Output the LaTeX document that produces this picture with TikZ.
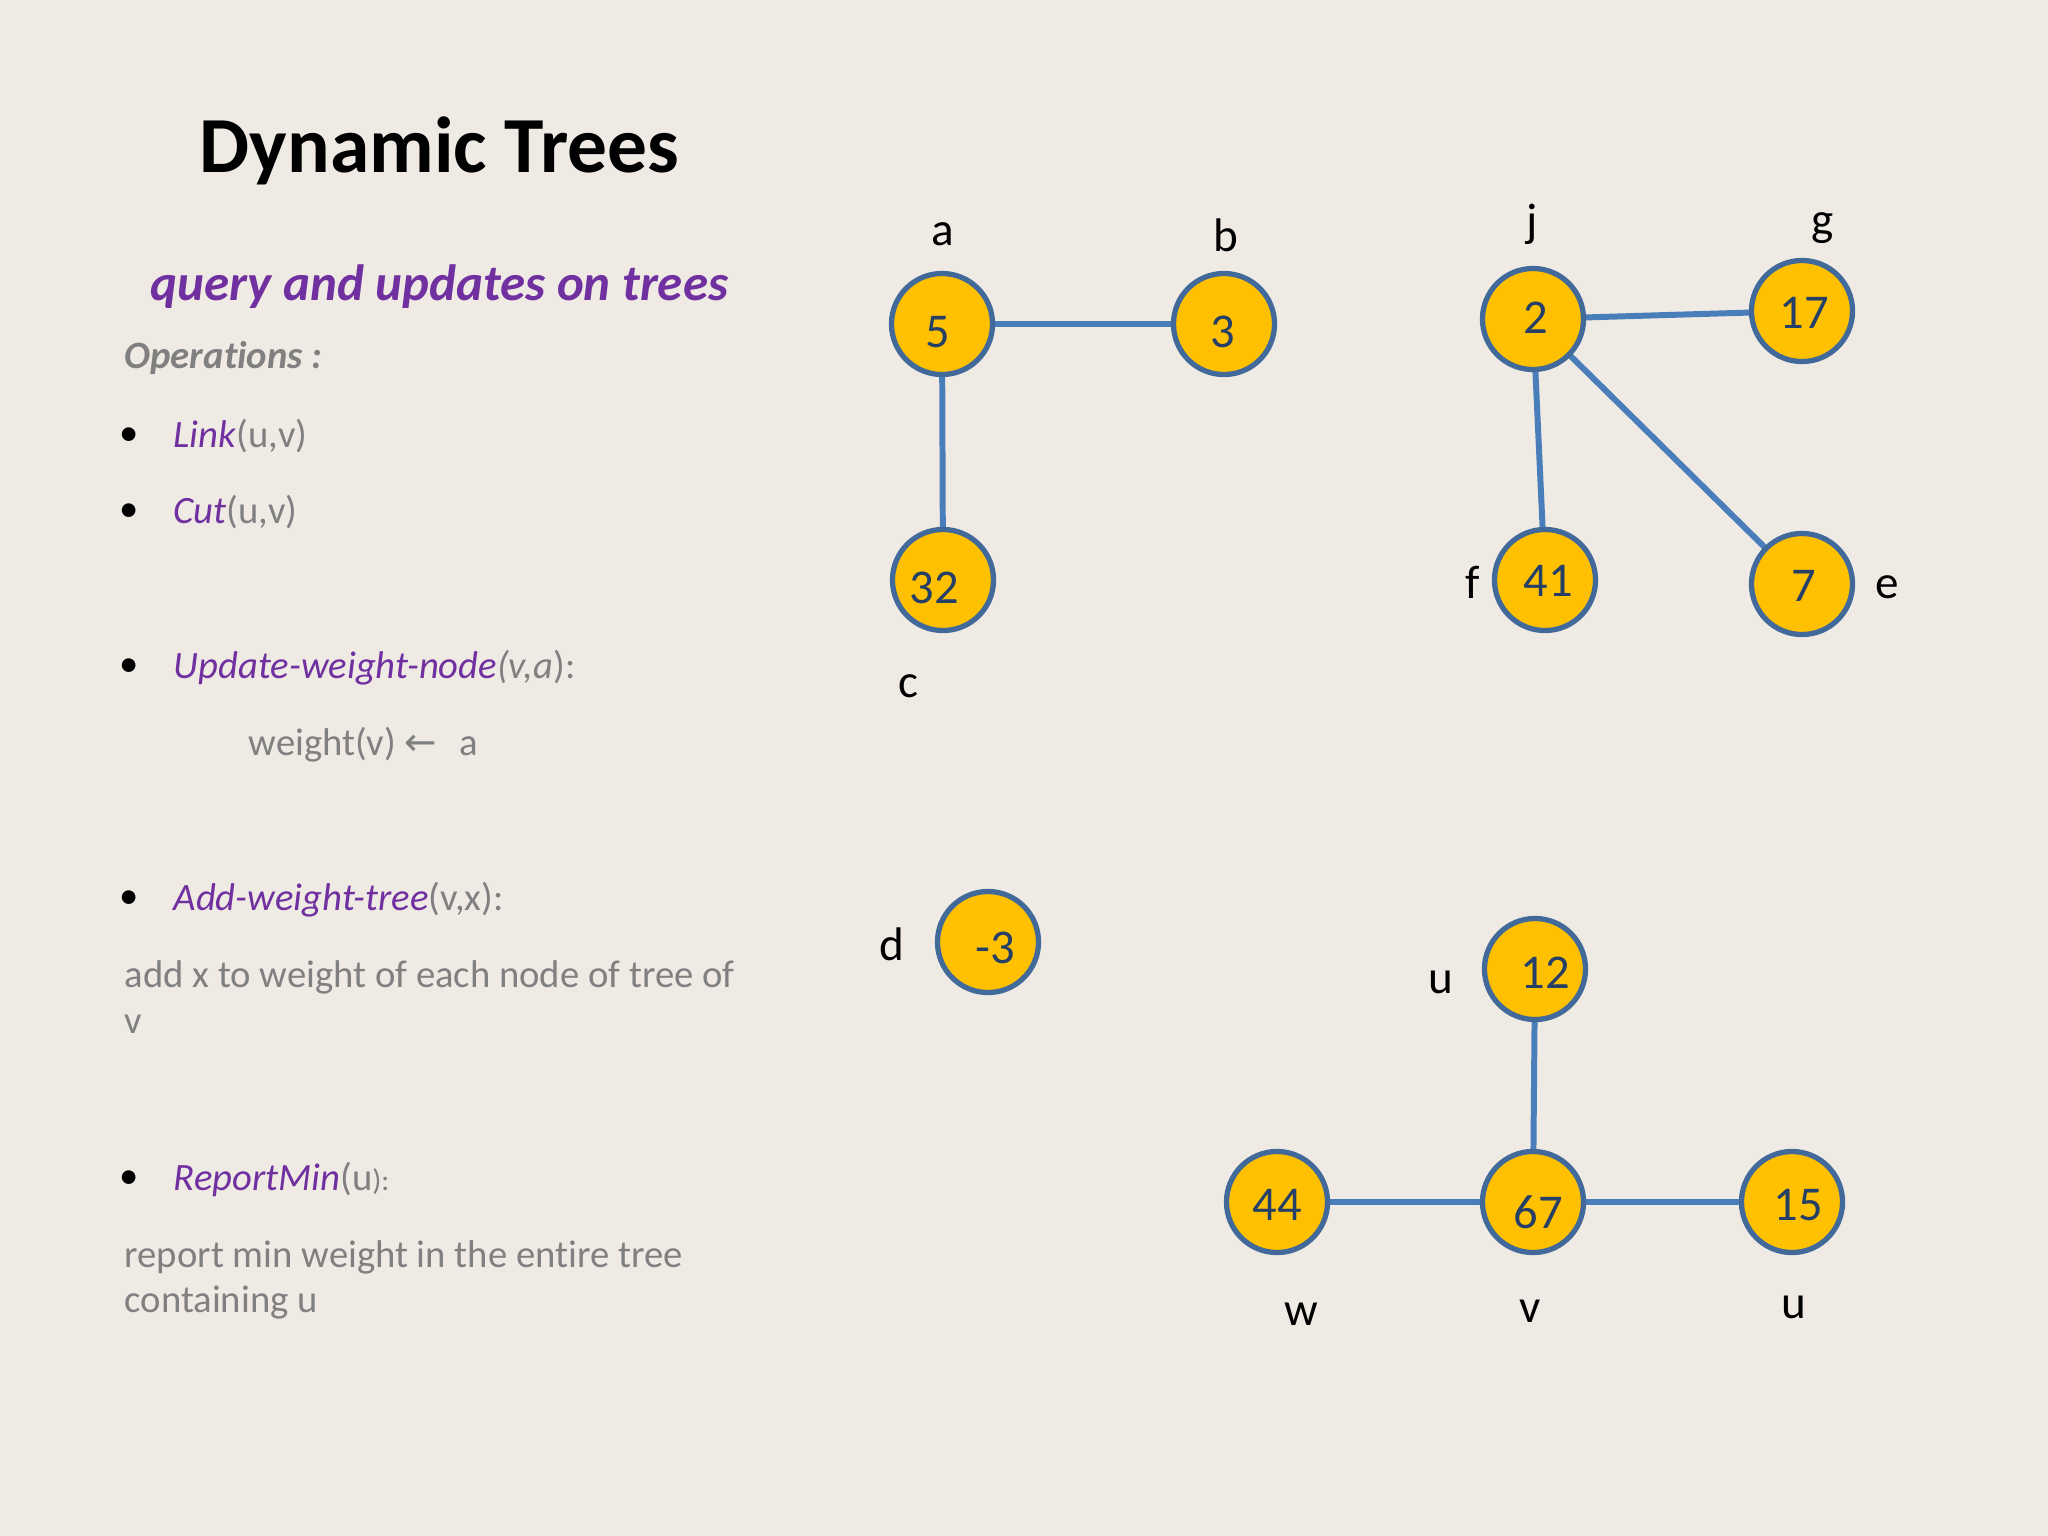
\documentclass[tikz,border=0pt]{standalone}
\usepackage{fontspec}
\setmainfont{Carlito}[Ligatures=NoCommon]
\newfontfamily\symfont{DejaVu Sans}
\definecolor{bgcol}{HTML}{EFEBE4}
\definecolor{purp}{HTML}{7030A0}
\definecolor{txtgray}{HTML}{808080}
\definecolor{gold}{HTML}{FFC000}
\definecolor{rimblue}{HTML}{41699A}
\definecolor{edgeblue}{HTML}{4A7EBB}
\definecolor{numblue}{HTML}{253F66}
\pgfdeclarelayer{backlayer}
\pgfdeclarelayer{edgelayer}
\pgfsetlayers{backlayer,edgelayer,main}
\tikzset{
  vtx/.style={circle, draw=rimblue, line width=1.5pt, fill=gold, minimum size=1.01cm, inner sep=0pt},
  num/.style={text=numblue, font=\fontsize{13.8pt}{16pt}\selectfont, inner sep=0pt, anchor=center},
  lbl/.style={anchor=base, font=\fontsize{13.4pt}{16pt}\selectfont, inner sep=0pt, text=black},
  treeedge/.style={draw=edgeblue, line width=1.7pt},
  body/.style={anchor=base west, inner sep=0pt, text=txtgray, font=\fontsize{11pt}{13pt}\selectfont},
  bul/.style={anchor=base, inner sep=0pt, text=black, font=\fontsize{11pt}{13pt}\selectfont},
}
\newcommand{\op}[1]{\textcolor{purp}{\itshape #1}}
\begin{document}
\begin{tikzpicture}[x=0.01cm,y=-0.01cm]
\useasboundingbox (0,0) rectangle (2048,1536);
\begin{pgfonlayer}{backlayer}
  \fill[bgcol] (0,0) rectangle (2048,1536);
\end{pgfonlayer}

% ---- left column text ----
\node[anchor=base west, inner sep=0pt, font=\fontsize{22.6pt}{27pt}\selectfont\bfseries] (title) at (199,172) {Dynamic Trees};
\node[anchor=base west, inner sep=0pt, text=purp, font=\fontsize{14.5pt}{17pt}\selectfont\bfseries\itshape] (sub) at (150,300) {query and updates on trees};
\node[body, font=\fontsize{11pt}{13pt}\selectfont\bfseries\itshape] (ops) at (124,368) {Operations :};

\node[bul] (b1) at (129,445) {\textbullet};
\node[body] (t1) at (173,447) {\op{Link}(u,v)};
\node[bul] (b2) at (129,521) {\textbullet};
\node[body] (t2) at (173,523) {\op{Cut}(u,v)};
\node[bul] (b3) at (129,676) {\textbullet};
\node[body] (t3) at (173,678) {\op{Update-weight-node}\textit{(v,a}):};
\node[body] (t3b) at (248,755) {weight(v) {\symfont ←}\,\, a};
\node[bul] (b4) at (129,908) {\textbullet};
\node[body] (t4) at (173,910) {\op{Add-weight-tree}(v,x):};
\node[body] (t4b) at (124,987) {add x to weight of each node of tree of};
\node[body] (t4c) at (124,1033) {v};
\node[bul] (b5) at (129,1188) {\textbullet};
\node[body] (t5) at (173,1190) {\op{ReportMin}(u{\fontsize{8.5pt}{10pt}\selectfont):}};
\node[body] (t5b) at (124,1267) {report min weight in the entire tree};
\node[body] (t5c) at (124,1312) {containing u};

% ---- tree 1 ----
\node[vtx] (n5) at (942,324) {};
\node[vtx] (n3) at (1224,324) {};
\node[vtx] (n32) at (943,580) {};
\node[num] (n5t) at (938,332) {5};
\node[num] (n3t) at (1223,332) {3};
\node[num] (n32t) at (934,588) {32};
\node[lbl] (la) at (943,245) {a};
\node[lbl] (lb) at (1226,251) {b};
\node[lbl] (lc) at (908,697) {c};

% ---- tree 2 ----
\node[vtx] (n2) at (1533,319) {};
\node[vtx] (n17) at (1802,311) {};
\node[vtx] (n41) at (1545,580) {};
\node[vtx] (n7) at (1802,584) {};
\node[num] (n2t) at (1536,318) {2};
\node[num] (n17t) at (1804,313) {17};
\node[num] (n41t) at (1548,581) {41};
\node[num] (n7t) at (1804,586) {7};
\node[lbl] (lj) at (1532,236) {j};
\node[lbl] (lg) at (1823,235) {g};
\node[lbl] (lf) at (1473,598) {f};
\node[lbl] (le) at (1887,598) {e};

% ---- single node ----
\node[vtx] (nm3) at (988,942) {};
\node[num] (nm3t) at (995,948) {-3};
\node[lbl] (ld) at (892,960) {d};

% ---- tree 3 ----
\node[vtx] (n12) at (1535,969) {};
\node[vtx] (n67) at (1533,1202) {};
\node[vtx] (n44) at (1277,1202) {};
\node[vtx] (n15) at (1792,1202) {};
\node[num] (n12t) at (1545,973) {12};
\node[num] (n67t) at (1538,1212) {67};
\node[num] (n44t) at (1277,1205) {44};
\node[num] (n15t) at (1798,1205) {15};
\node[lbl] (lu1) at (1441,993) {u};
\node[lbl] (lw) at (1301,1325) {w};
\node[lbl] (lv) at (1530,1322) {v};
\node[lbl] (lu2) at (1794,1318) {u};

% ---- edges ----
\begin{pgfonlayer}{edgelayer}
  \draw[treeedge] (n5.center) -- (n3.center);
  \draw[treeedge] (n5.center) -- (n32.center);
  \draw[treeedge] (n2.center) -- (n17.center);
  \draw[treeedge] (n2.center) -- (n41.center);
  \draw[treeedge] (n2.center) -- (n7.center);
  \draw[treeedge] (n12.center) -- (n67.center);
  \draw[treeedge] (n44.center) -- (n67.center);
  \draw[treeedge] (n67.center) -- (n15.center);
\end{pgfonlayer}
\end{tikzpicture}
\end{document}
